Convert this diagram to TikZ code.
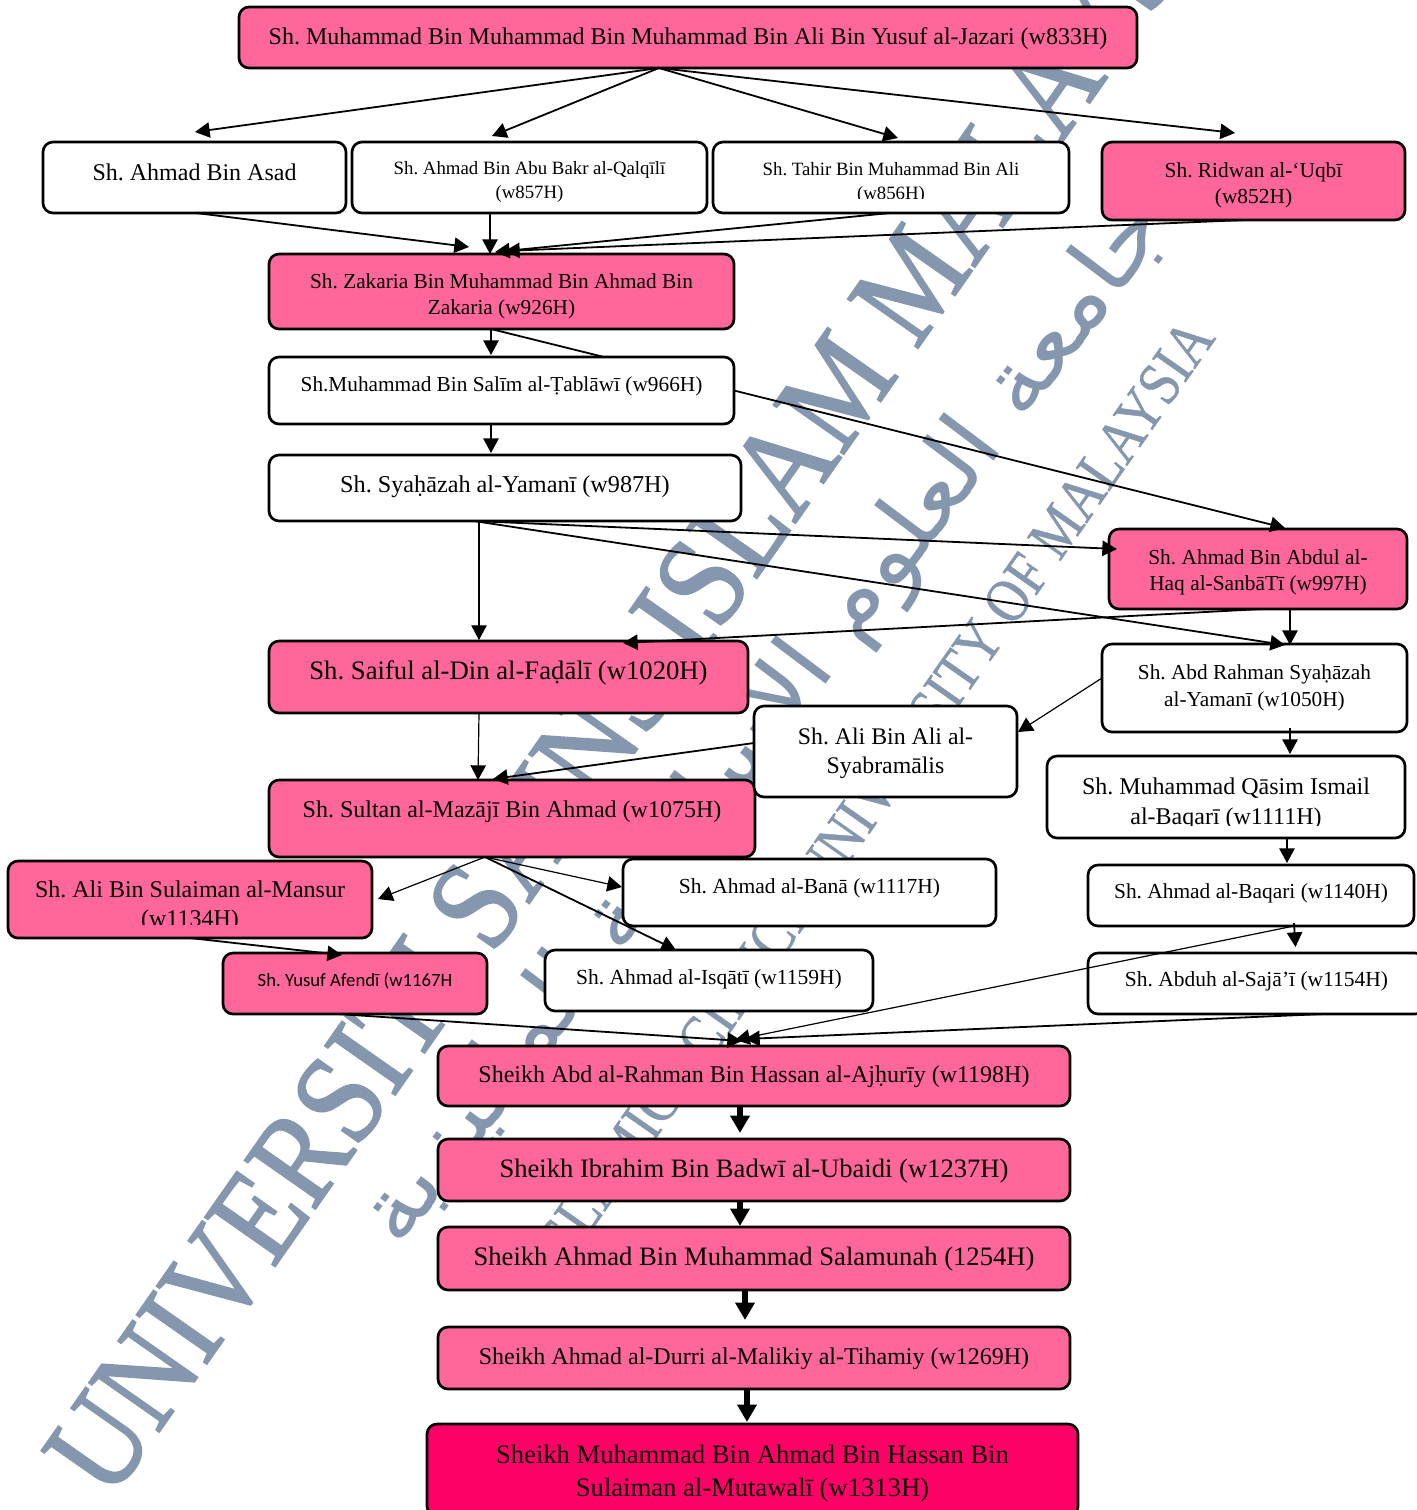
\documentclass[tikz,border=0pt]{standalone}
\usepackage{fontspec}
\usetikzlibrary{arrows.meta}
\setmainfont{Liberation Serif}
\newfontfamily\carl{Carlito}
\newfontfamily\wmserif[FakeBold=1.5]{Liberation Serif}
\newfontfamily\wmsmall[FakeBold=0.8]{Liberation Serif}
\newfontfamily\arabicfont[Script=Arabic]{DejaVu Sans}
\TeXXeTstate=1
\definecolor{pk}{HTML}{FF6699}
\definecolor{dp}{HTML}{FF0066}
\definecolor{wm}{HTML}{8497AE}
\def\u{*0.75pt}
\newcommand\fsz[2]{\pgfmathsetlengthmacro\myfa{#1*0.75}\pgfmathsetlengthmacro\myfb{#2*0.75}\fontsize{\myfa}{\myfb}\selectfont}
\newcommand\kbox[8]{%
  \pgfmathsetmacro\cxx{(#2+#4)/2}\pgfmathsetmacro\cyy{(#3+#5)/2}%
  \pgfmathsetlengthmacro\bw{(#4-#2)*0.75}\pgfmathsetlengthmacro\bh{(#5-#3)*0.75}%
  \pgfmathsetlengthmacro\dyy{(\cyy-#7)*0.75}%
  \node[boxst,#6,minimum width=\bw,minimum height=\bh] (#1) at (\cxx,\cyy)
   {\frenchspacing\raisebox{\dimexpr\dyy-0.25em-2.3pt\relax}[0pt][0pt]{\begin{tabular}[c]{@{}c@{}}#8\end{tabular}}};}
\tikzset{
  boxst/.style={draw=black,line width=2pt,rounded corners=7.5pt,inner sep=0pt,outer sep=0pt,text=black},
  pinkbox/.style={fill=pk},
  whitebox/.style={fill=white},
  deepbox/.style={fill=dp},
  arr/.style={line width=1.35pt,-{Triangle[length=11pt,width=11.5pt]}},
  thinarr/.style={line width=0.9pt,-{Triangle[length=11pt,width=11.5pt]}},
  plainline/.style={line width=1.35pt},
  thickarr/.style={line width=4pt,-{Triangle[length=13pt,width=14pt]}},
  wmtext/.style={text=wm,inner sep=0pt,anchor=base west},
}
\begin{document}
\begin{tikzpicture}[x=0.75pt,y=-0.75pt]
\useasboundingbox (0,0) rectangle (1417,1510);
\clip (0,0) rectangle (1417,1510);
% watermark
\node[wmtext,rotate=55] (wmmain) at (110,1502) {\wmserif\fontsize{98pt}{98pt}\selectfont\scalebox{0.87}[1]{UNIVERSITI SAINS ISLAM MALAYSIA}};
\node[wmtext,rotate=53] (wmar) at (400,1250) {\arabicfont\fontsize{68pt}{68pt}\selectfont\scalebox{1.08}[1]{\beginR جامعة العلوم الإسلامية الماليزية\endR}};
\node[wmtext,rotate=55] (wmen) at (559,1277) {\wmsmall\fontsize{46.5pt}{46.5pt}\selectfont\scalebox{0.85}[1]{ISLAMIC SCIENCE UNIVERSITY OF MALAYSIA}};
% boxes
\kbox{top}{239}{7}{1137}{68}{pinkbox,font=\fsz{24}{29}}{35}{Sh. Muhammad Bin Muhammad Bin Muhammad Bin Ali Bin Yusuf al-Jazari (w833H)}
\kbox{aa}{43}{142}{346}{213}{whitebox,font=\fsz{24}{29}}{171}{Sh. Ahmad Bin Asad}
\kbox{ab}{352}{142}{707}{213}{whitebox,font=\fsz{18.8}{23.5}}{179}{Sh. Ahmad Bin Abu Bakr al-Qalqīlī\\(w857H)}
\kbox{ac}{713}{142}{1069}{213}{whitebox,font=\fsz{18.8}{24}}{180}{Sh. Tahir Bin Muhammad Bin Ali\\(w856H)}
\fill[white] (820,199) rectangle (960,211);
\kbox{ad}{1102}{142}{1405}{220}{pinkbox,font=\fsz{21.4}{26}}{183}{Sh. Ridwan al-‘Uqbī\\(w852H)}
\kbox{za}{269}{254}{734}{329}{pinkbox,font=\fsz{21.3}{26}}{294}{Sh. Zakaria Bin Muhammad Bin Ahmad Bin\\Zakaria (w926H)}
\kbox{ta}{269}{357}{734}{424}{whitebox,font=\fsz{21.3}{26}}{384}{Sh.Muhammad Bin Salīm al-Ṭablāwī (w966H)}
\kbox{sy}{269}{455}{741}{521}{whitebox,font=\fsz{24.2}{29}}{483}{Sh. Syaḥāzah al-Yamanī (w987H)}
\kbox{sa}{1109}{529}{1407}{609}{pinkbox,font=\fsz{21.4}{26}}{570}{Sh. Ahmad Bin Abdul al-\\Haq al-SanbāTī (w997H)}
\kbox{fa}{269}{641}{748}{713}{pinkbox,font=\fsz{26.7}{32}}{670}{Sh. Saiful al-Din al-Faḍālī (w1020H)}
\kbox{ar}{1102}{644}{1407}{732}{whitebox,font=\fsz{21.3}{27}}{685}{Sh. Abd Rahman Syaḥāzah\\al-Yamanī (w1050H)}
\kbox{su}{269}{780}{755}{857}{pinkbox,font=\fsz{24}{29}}{808}{Sh. Sultan al-Mazājī Bin Ahmad (w1075H)}
\kbox{al}{754}{706}{1017}{797}{whitebox,font=\fsz{23.8}{29}}{750}{Sh. Ali Bin Ali al-\\Syabramālis}
\kbox{qa}{1047}{756}{1405}{838}{whitebox,font=\fsz{24}{30}}{800}{Sh. Muhammad Qāsim Ismail\\al-Baqarī (w1111H)}
\fill[white] (1110,826) rectangle (1340,836);
\kbox{am}{8}{861}{372}{938}{pinkbox,font=\fsz{24}{29}}{903}{Sh. Ali Bin Sulaiman al-Mansur\\(w1134H)}
\fill[pk] (120,925) rectangle (260,936);
\kbox{bn}{623}{859}{996}{926}{whitebox,font=\fsz{21.5}{26}}{886}{Sh. Ahmad al-Banā (w1117H)}
\kbox{bq}{1088}{865}{1414}{926}{whitebox,font=\fsz{21.4}{26}}{891}{Sh. Ahmad al-Baqari (w1140H)}
\kbox{yf}{223}{953}{487}{1014}{pinkbox,font=\carl\fsz{18.7}{22}}{979}{Sh. Yusuf Afendī (w1167H}
\kbox{is}{545}{950}{873}{1011}{whitebox,font=\fsz{21.5}{26}}{977}{Sh. Ahmad al-Isqātī (w1159H)}
\kbox{sj}{1088}{953}{1425}{1014}{whitebox,font=\fsz{21.5}{26}}{979}{Sh. Abduh al-Sajā’ī (w1154H)}
\kbox{ra}{438}{1046}{1070}{1106}{pinkbox,font=\fsz{24}{29}}{1073}{Sheikh Abd al-Rahman Bin Hassan al-Ajḥurīy (w1198H)}
\kbox{rb}{438}{1139}{1070}{1201}{pinkbox,font=\fsz{26.6}{32}}{1168}{Sheikh Ibrahim Bin Badwī al-Ubaidi (w1237H)}
\kbox{rc}{438}{1227}{1070}{1290}{pinkbox,font=\fsz{26.6}{32}}{1256}{Sheikh Ahmad Bin Muhammad Salamunah (1254H)}
\kbox{rd}{438}{1327}{1070}{1389}{pinkbox,font=\fsz{24}{29}}{1355}{Sheikh Ahmad al-Durri al-Malikiy al-Tihamiy (w1269H)}
\kbox{re}{427}{1424}{1078}{1516}{deepbox,font=\fsz{26.6}{33}}{1471}{Sheikh Muhammad Bin Ahmad Bin Hassan Bin\\Sulaiman al-Mutawalī (w1313H)}
% connectors
\draw[arr] ([xshift=-29\u]top.south) -- ([xshift=0.5\u,yshift=10\u]aa.north);
\draw[arr] ([xshift=-29\u]top.south) -- ([xshift=-37.5\u,yshift=6\u]ab.north);
\draw[arr] ([xshift=-29\u]top.south) -- ([xshift=7\u,yshift=4\u]ac.north);
\draw[arr] ([xshift=-29\u]top.south) -- ([xshift=-18.5\u,yshift=9\u]ad.north);
\draw[arr] ([xshift=1.5\u]aa.south) -- ([xshift=-32.5\u,yshift=7\u]za.north);
\draw[arr] ([xshift=-39.5\u]ab.south) -- ([xshift=-11.5\u]za.north);
\draw[arr] ([xshift=-1\u]ac.south) -- ([xshift=-6.5\u,yshift=2\u]za.north);
\draw[arr] ([xshift=-8.5\u]ad.south) -- ([xshift=3.5\u,yshift=3\u]za.north);
\draw[arr] ([xshift=-10.5\u]za.south) -- ([xshift=-10.5\u,yshift=2\u]ta.north);
\draw[plainline] ([xshift=-10.5\u]za.south) -- ([xshift=102.5\u]ta.north);
\draw[arr] (ta.east) -- ([xshift=27\u,yshift=1\u]sa.north);
\draw[arr] ([xshift=-10.5\u]ta.south) -- ([xshift=-14\u,yshift=2\u]sy.north);
\draw[thinarr] ([xshift=-26\u]sy.south) -- ([xshift=-29.5\u,yshift=1\u]fa.north);
\draw[arr] ([xshift=-31\u]sy.south) -- ([xshift=8\u,yshift=20\u]sa.west);
\draw[arr] ([xshift=-31\u]sy.south) -- ([xshift=30.5\u,yshift=-1\u]ar.north);
\draw[arr] ([xshift=32\u]sa.south) -- ([xshift=35.5\u,yshift=-1\u]ar.north);
\draw[arr] ([xshift=4\u]sa.south) -- ([xshift=114.5\u,yshift=-2\u]fa.north);
\draw[thinarr] ([xshift=-29.5\u]fa.south) -- ([xshift=-34\u]su.north);
\draw[arr] ([yshift=8.5\u]al.west) -- ([xshift=-19\u,yshift=1\u]su.north);
\draw[thinarr] ([yshift=10\u]ar.west) -- ([xshift=1\u,yshift=19.5\u]al.east);
\draw[arr] ([xshift=35.5\u,yshift=4\u]ar.south) -- ([xshift=64\u,yshift=2\u]qa.north);
\draw[arr] ([xshift=61\u]qa.south) -- ([xshift=36\u,yshift=2\u]bq.north);
\draw[arr] ([xshift=43\u,yshift=3\u]bq.south) -- ([xshift=39\u,yshift=6\u]sj.north);
\draw[thinarr] ([xshift=43\u]bq.south) -- ([xshift=-19\u,yshift=6\u]ra.north);
\draw[thinarr] ([xshift=-27\u]su.south) -- ([xshift=6\u,yshift=0.5\u]am.east);
\draw[thinarr] ([xshift=-27\u]su.south) -- ([xshift=-1\u,yshift=5.5\u]bn.west);
\draw[arr] ([xshift=-27\u]su.south) -- ([xshift=-33\u]is.north);
\draw[arr] (am.south) -- ([xshift=-13\u,yshift=-2\u]yf.north);
\draw[arr] ([xshift=-17\u]yf.south) -- ([xshift=-12\u,yshift=5\u]ra.north);
\draw[arr] ([xshift=67\u]sj.south) -- ([xshift=-9\u,yshift=7\u]ra.north);
\draw[thickarr] ([xshift=-14\u]ra.south) -- ([xshift=-14\u,yshift=6\u]rb.north);
\draw[thickarr] ([xshift=-14\u]rb.south) -- ([xshift=-14\u,yshift=1\u]rc.north);
\draw[thickarr] ([xshift=-9\u]rc.south) -- ([xshift=-9\u,yshift=7\u]rd.north);
\draw[thickarr] ([xshift=-7\u]rd.south) -- ([xshift=-5.5\u,yshift=2\u]re.north);
\end{tikzpicture}
\end{document}
